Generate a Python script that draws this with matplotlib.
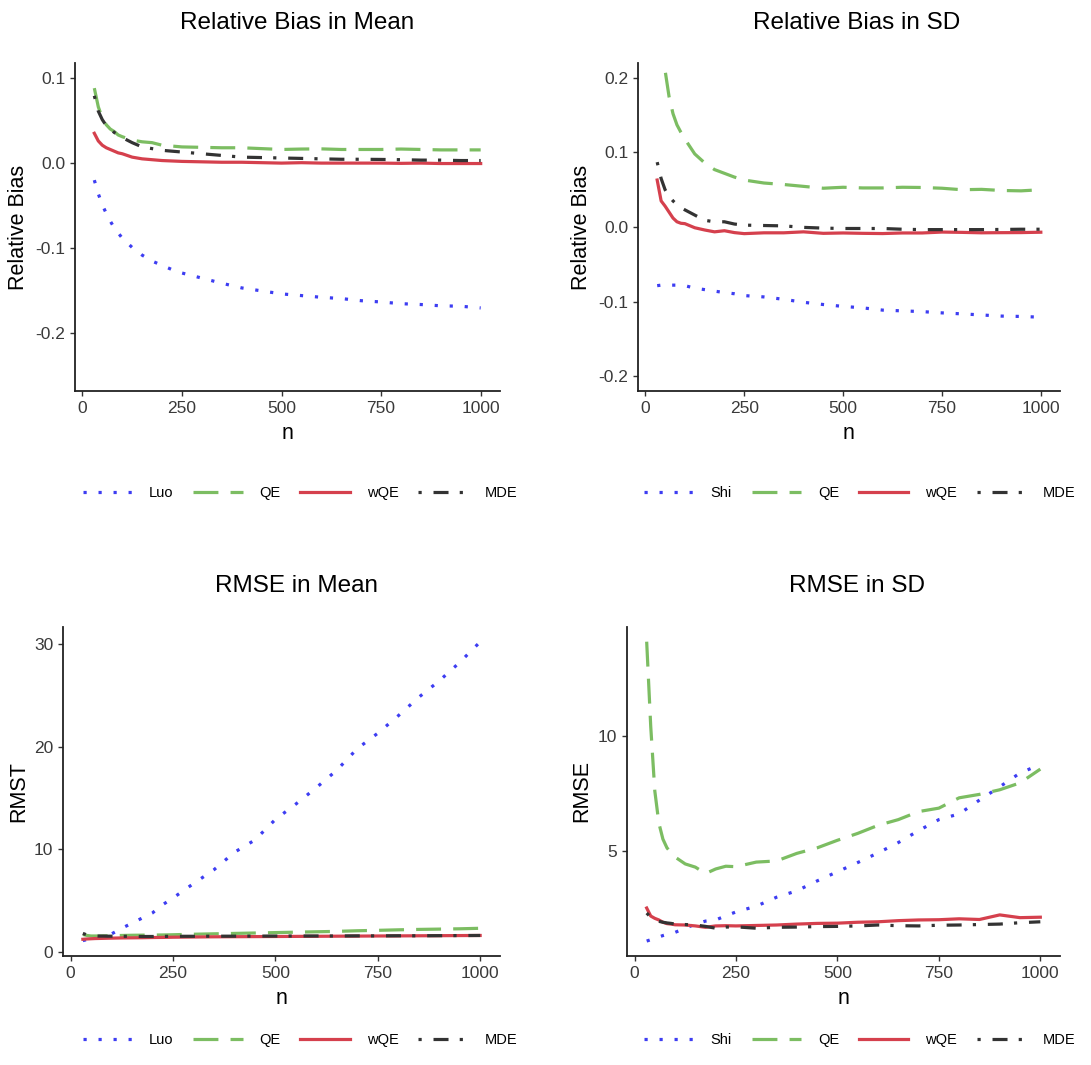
import matplotlib
matplotlib.use("Agg")
import matplotlib.pyplot as plt

plt.rcParams['font.family'] = ['Liberation Sans', 'DejaVu Sans']
plt.rcParams['axes.unicode_minus'] = False

n_grid = [30, 40, 50, 60, 70, 80, 90, 100, 125, 150, 175, 200, 225, 250, 300, 350,
          400, 450, 500, 550, 600, 650, 700, 750, 800, 850, 900, 950, 1000]

# --- Relative bias in mean ---
bias_mean_luo = [-0.020, -0.036, -0.049, -0.059, -0.068, -0.076, -0.082, -0.088, -0.099, -0.108,
                 -0.115, -0.120, -0.125, -0.129, -0.135, -0.141, -0.1465, -0.150, -0.1535, -0.1555,
                 -0.1575, -0.159, -0.1615, -0.163, -0.165, -0.166, -0.1675, -0.168, -0.170]
bias_mean_qe = [0.088, 0.066, 0.053, 0.045, 0.040, 0.037, 0.033, 0.031, 0.027, 0.025,
                0.024, 0.021, 0.020, 0.019, 0.0185, 0.018, 0.018, 0.017, 0.016, 0.0165,
                0.0167, 0.016, 0.016, 0.016, 0.0165, 0.016, 0.0155, 0.0155, 0.0155]
bias_mean_wqe = [0.035, 0.026, 0.021, 0.018, 0.016, 0.014, 0.012, 0.011, 0.007, 0.005,
                 0.004, 0.003, 0.0025, 0.002, 0.0015, 0.001, 0.001, 0.0005, 0.0, 0.0005,
                 0.0, 0.0, 0.0, 0.0, -0.0003, 0.0, -0.0005, -0.0005, -0.0005]
bias_mean_mde = [0.079, 0.061, 0.051, 0.044, 0.040, 0.036, 0.033, 0.030, 0.024, 0.019,
                 0.017, 0.015, 0.014, 0.013, 0.011, 0.009, 0.007, 0.0065, 0.006, 0.0055,
                 0.005, 0.0045, 0.0045, 0.0043, 0.004, 0.0035, 0.0035, 0.003, 0.003]

# --- Relative bias in SD ---
bias_sd_shi = [-0.0787, -0.078, -0.078, -0.078, -0.078, -0.078, -0.0785, -0.0787, -0.082, -0.084,
               -0.086, -0.088, -0.0895, -0.092, -0.0938, -0.097, -0.101, -0.104, -0.1065, -0.1085,
               -0.1115, -0.1125, -0.1135, -0.1152, -0.1165, -0.118, -0.1195, -0.120, -0.121]
bias_sd_qe = [0.33, 0.27, 0.21, 0.175, 0.152, 0.137, 0.127, 0.118, 0.098, 0.086,
              0.077, 0.072, 0.067, 0.063, 0.059, 0.057, 0.0545, 0.052, 0.0533, 0.0524,
              0.0524, 0.0533, 0.053, 0.052, 0.050, 0.0505, 0.049, 0.0485, 0.050]
bias_sd_wqe = [0.063, 0.035, 0.028, 0.020, 0.012, 0.007, 0.005, 0.0045, -0.001, -0.004,
               -0.0065, -0.005, -0.0075, -0.0089, -0.0078, -0.0078, -0.0065, -0.0085, -0.008, -0.0085,
               -0.0088, -0.008, -0.008, -0.0068, -0.0072, -0.0078, -0.0076, -0.0075, -0.007]
bias_sd_mde = [0.087, 0.065, 0.050, 0.041, 0.035, 0.030, 0.026, 0.023, 0.016, 0.009,
               0.007, 0.007, 0.004, 0.0025, 0.002, 0.0015, -0.0005, -0.0015, -0.002, -0.002,
               -0.002, -0.003, -0.0035, -0.0035, -0.0035, -0.0035, -0.0033, -0.003, -0.003]

# --- RMSE in mean ---
rmse_mean_luo = [1.1, 1.2, 1.3, 1.4, 1.5, 1.6, 1.7, 1.75, 2.3, 2.8,
                 3.3, 3.8, 4.6, 5.25, 6.65, 8.0, 9.7, 10.9, 12.9, 14.4,
                 16.0, 17.7, 19.8, 21.3, 23.0, 24.8, 26.4, 28.2, 30.2]
rmse_mean_qe = [1.7, 1.6, 1.55, 1.55, 1.55, 1.56, 1.57, 1.58, 1.6, 1.62,
                1.63, 1.64, 1.65, 1.67, 1.72, 1.76, 1.80, 1.84, 1.88, 1.92,
                1.96, 2.0, 2.06, 2.1, 2.15, 2.19, 2.22, 2.25, 2.3]
rmse_mean_wqe = [1.23, 1.26, 1.28, 1.3, 1.31, 1.32, 1.33, 1.34, 1.36, 1.37,
                 1.38, 1.4, 1.41, 1.43, 1.45, 1.47, 1.48, 1.49, 1.5, 1.51,
                 1.52, 1.53, 1.54, 1.55, 1.56, 1.57, 1.58, 1.59, 1.6]
rmse_mean_mde = [1.8, 1.65, 1.58, 1.55, 1.54, 1.54, 1.53, 1.53, 1.52, 1.52,
                 1.5, 1.5, 1.51, 1.52, 1.52, 1.53, 1.53, 1.54, 1.54, 1.55,
                 1.55, 1.55, 1.56, 1.56, 1.57, 1.57, 1.58, 1.59, 1.6]

# --- RMSE in SD ---
rmse_sd_shi = [1.06, 1.12, 1.18, 1.24, 1.3, 1.35, 1.4, 1.44, 1.62, 1.8,
               1.93, 1.98, 2.16, 2.33, 2.58, 2.97, 3.25, 3.68, 4.08, 4.48,
               4.9, 5.35, 5.87, 6.35, 6.6, 7.2, 7.78, 8.38, 8.75]
rmse_sd_qe = [14.1, 10.4, 7.6, 6.2, 5.5, 5.12, 4.9, 4.72, 4.42, 4.28,
              4.0, 4.2, 4.32, 4.3, 4.5, 4.55, 4.88, 5.12, 5.45, 5.75,
              6.1, 6.35, 6.7, 6.85, 7.3, 7.45, 7.65, 7.95, 8.55]
rmse_sd_wqe = [2.5, 2.15, 2.05, 1.98, 1.88, 1.82, 1.8, 1.77, 1.76, 1.72,
               1.66, 1.72, 1.73, 1.72, 1.74, 1.76, 1.8, 1.83, 1.84, 1.88,
               1.9, 1.95, 1.98, 1.99, 2.03, 2.0, 2.2, 2.08, 2.1]
rmse_sd_mde = [2.28, 2.1, 1.98, 1.92, 1.88, 1.85, 1.83, 1.8, 1.78, 1.76,
               1.7, 1.62, 1.67, 1.68, 1.62, 1.66, 1.67, 1.69, 1.7, 1.72,
               1.76, 1.73, 1.72, 1.75, 1.76, 1.78, 1.8, 1.86, 1.9]

COLORS = ['#3d3df2', '#7cbd62', '#d5404d', '#333333']
DASHES = [(0, (1, 3.7)), (0, (7.8, 3.8)), 'solid', (0, (1, 3.7, 4.7, 3.5))]

W, H = 1091, 1065
fig = plt.figure(figsize=(W / 100, H / 100), dpi=100)


def add_panel(box, title, title_x, title_y, ylabel, label_x, series, labels,
              ylim, yticks, yfmt, legend_y):
    left, top, right, bottom = box
    ax = fig.add_axes([left / W, 1 - bottom / H, (right - left) / W, (bottom - top) / H])
    for vals, col, ls in zip(series, COLORS, DASHES):
        ax.plot(n_grid, vals, color=col, linestyle=ls, linewidth=2.3)
    ax.set_xlim(-18.5, 1048.5)
    ax.set_ylim(*ylim)
    ax.set_xticks([0, 250, 500, 750, 1000])
    ax.set_yticks(yticks)
    ax.set_yticklabels([yfmt.format(v) for v in yticks])
    for s in ['top', 'right']:
        ax.spines[s].set_visible(False)
    for s in ['left', 'bottom']:
        ax.spines[s].set_linewidth(1.3)
        ax.spines[s].set_color('#222222')
    ax.tick_params(length=3.5, width=1.0, color='#333333', labelsize=12.5,
                   labelcolor='#3a3a3a', pad=3.5)
    ax.set_xlabel('n', fontsize=15.5, labelpad=5)
    ax.set_ylabel(ylabel, fontsize=15.5)
    ax.yaxis.set_label_coords((label_x - left) / (right - left), 0.5)
    fig.text(title_x / W, 1 - title_y / H, title, fontsize=17.5, ha='center', va='center')

    handles = [plt.Line2D([], [], color=c, linestyle=l, linewidth=2.3) for c, l in zip(COLORS, DASHES)]
    fig.legend(handles, labels, loc='center', ncol=4, frameon=False,
               bbox_to_anchor=(title_x / W + 3 / W, 1 - legend_y / H), fontsize=10.5,
               handlelength=3.4, handletextpad=1.15, columnspacing=1.35)
    return ax


add_panel((75, 63, 500, 391), 'Relative Bias in Mean', 297, 23, 'Relative Bias', 29,
          [bias_mean_luo, bias_mean_qe, bias_mean_wqe, bias_mean_mde],
          ['Luo', 'QE', 'wQE', 'MDE'], (-0.2675, 0.1175), [-0.2, -0.1, 0.0, 0.1], '{:.1f}', 493)
add_panel((638, 63, 1060, 391), 'Relative Bias in SD', 857, 23, 'Relative Bias', 592,
          [bias_sd_shi, bias_sd_qe, bias_sd_wqe, bias_sd_mde],
          ['Shi', 'QE', 'wQE', 'MDE'], (-0.22, 0.22), [-0.2, -0.1, 0.0, 0.1, 0.2], '{:.1f}', 493)
add_panel((63, 627, 500, 956), 'RMSE in Mean', 297, 586, 'RMST', 29,
          [rmse_mean_luo, rmse_mean_qe, rmse_mean_wqe, rmse_mean_mde],
          ['Luo', 'QE', 'wQE', 'MDE'], (-0.4, 31.65), [0, 10, 20, 30], '{:d}', 1040)
add_panel((627, 627, 1060, 956), 'RMSE in SD', 857, 586, 'RMSE', 592,
          [rmse_sd_shi, rmse_sd_qe, rmse_sd_wqe, rmse_sd_mde],
          ['Shi', 'QE', 'wQE', 'MDE'], (0.41, 14.74), [5, 10], '{:d}', 1040)

fig.savefig('out.png', dpi=100)
